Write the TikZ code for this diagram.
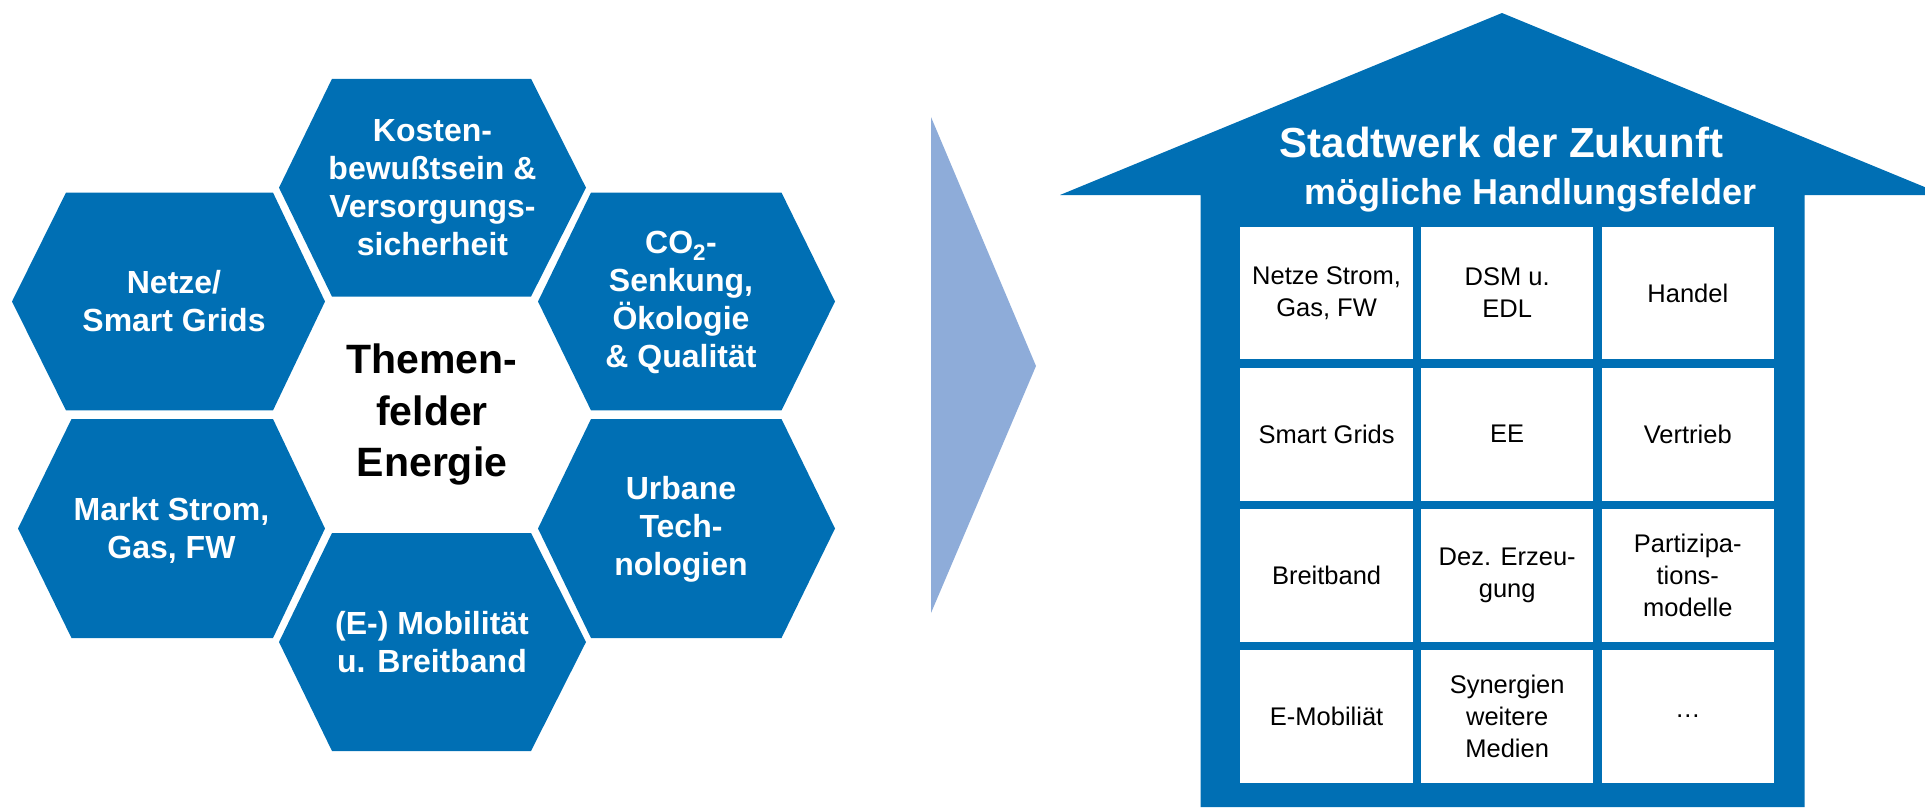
\documentclass[tikz,border=0pt]{standalone}
\usepackage{fontspec}
\setmainfont{Liberation Sans}
\usepackage{xcolor}

\definecolor{hexblue}{RGB}{0,111,180}
\definecolor{arrowblue}{RGB}{142,172,217}

\tikzset{
  hextext/.style={text=white, align=center, font=\fontsize{32}{38}\selectfont\bfseries},
  cellbox/.style={fill=white, minimum width=172.5, minimum height=132.7, inner sep=0pt, align=center, font=\fontsize{25.5}{32}\selectfont},
}

\begin{document}
\begin{tikzpicture}[x=1pt,y=-1pt]
    \useasboundingbox (0,0) rectangle (1925,807);
    \clip (0,0) rectangle (1925,807);

    % honeycomb
    \fill[hexblue] (332,78.75)--(531,78.75)--(586,187.7)--(531,296.6)--(332,296.6)--(279,187.7)--cycle;
    \fill[hexblue] (66,192.6)--(273,192.6)--(325,301.5)--(273,410.4)--(66,410.4)--(12,301.5)--cycle;
    \fill[hexblue] (591,192.6)--(781.5,192.6)--(835,301.5)--(781.5,410.4)--(591,410.4)--(538,301.5)--cycle;
    \fill[hexblue] (71.5,419)--(273,419)--(325,528.5)--(273,638)--(71.5,638)--(18,528.5)--cycle;
    \fill[hexblue] (591,419)--(781.5,419)--(835,528.5)--(781.5,638)--(591,638)--(538,528.5)--cycle;
    \fill[hexblue] (332,533)--(531,533)--(586,642)--(531,751)--(332,751)--(279,642)--cycle;

    \node[hextext] (kosten) at (432.5,188) {Kosten-\\bewußtsein \&\\Versorgungs-\\sicherheit};
    \node[hextext] (netze) at (174,301) {Netze/\\Smart Grids};
    \node[hextext] (senkung) at (681,302) {CO\textsubscript{2}-\\Senkung,\\Ökologie\\\& Qualität};
    \node[hextext] (markt) at (171.5,530) {Markt Strom,\\Gas, FW};
    \node[hextext] (urbane) at (681,529) {Urbane\\Tech-\\nologien};
    \node[hextext] (mobil) at (432,642) {(E-) Mobilität\\u. Breitband};
    \node[align=center, font=\fontsize{41}{51.5}\selectfont\bfseries] (themen) at (432,414.5) {Themen-\\felder\\Energie};

    % arrow
    \fill[arrowblue] (931,117)--(1036,366)--(931,613)--cycle;

    % house
    \fill[hexblue] (1060,195)--(1502,13)--(1944,195)--(1804.5,195)--(1804.5,807)--(1200.7,807)--(1200.7,195)--cycle;
    \node[anchor=base, text=white, font=\fontsize{42}{48}\selectfont\bfseries] (stadtwerk) at (1501.5,157.3) {Stadtwerk der Zukunft};
    \node[anchor=base, text=white, font=\fontsize{36}{42}\selectfont\bfseries] (handlung) at (1530.5,204.3) {mögliche Handlungsfelder};

    \node[cellbox] (netzestrom) at (1326.6,293) {Netze Strom,\\Gas, FW};
    \node[cellbox] (dsm) at (1507.2,293) {DSM u.\\EDL};
    \node[cellbox] (handel) at (1687.8,293) {Handel};
    \node[cellbox] (smartgrids) at (1326.6,434.2) {Smart Grids};
    \node[cellbox] (ee) at (1507.2,434.2) {EE};
    \node[cellbox] (vertrieb) at (1687.8,434.2) {Vertrieb};
    \node[cellbox] (breitband) at (1326.6,575.3) {Breitband};
    \node[cellbox] (erzeugung) at (1507.2,575.3) {Dez. Erzeu-\\gung};
    \node[cellbox] (partizipation) at (1687.8,575.3) {Partizipa-\\tions-\\modelle};
    \node[cellbox] (emobil) at (1326.6,716.3) {E-Mobiliät};
    \node[cellbox] (synergien) at (1507.2,716.3) {Synergien\\weitere\\Medien};
    \node[cellbox] (weitere) at (1687.8,716.3) {…};

\end{tikzpicture}
\end{document}
